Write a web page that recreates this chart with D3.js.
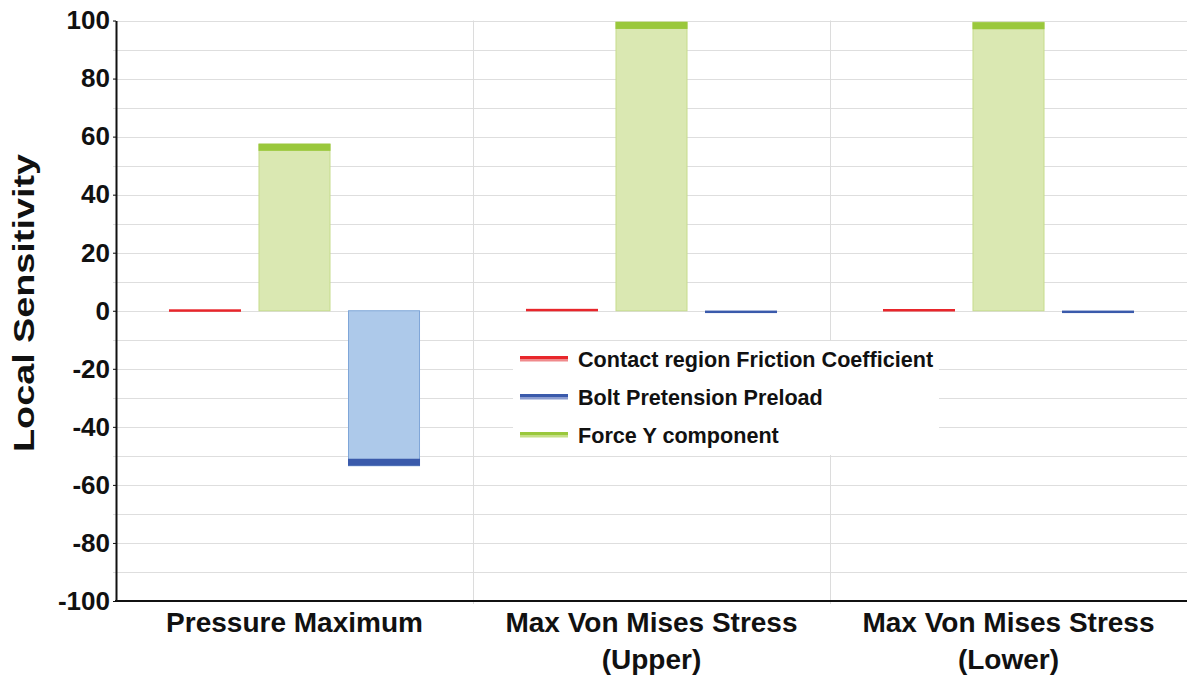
<!DOCTYPE html>
<html>
<head>
<meta charset="utf-8">
<script src="https://cdnjs.cloudflare.com/ajax/libs/d3/7.8.5/d3.min.js"></script>
<style>
  html, body { margin: 0; padding: 0; background: #fff; }
  svg { display: block; font-family: "Liberation Sans", Arial, sans-serif; }
</style>
</head>
<body>
<svg id="chart" width="1187" height="679"></svg>
<script>
// ---- data ----
const categories = ["Pressure Maximum", "Max Von Mises Stress (Upper)", "Max Von Mises Stress (Lower)"];
const categoryLabels = [["Pressure Maximum"], ["Max Von Mises Stress", "(Upper)"], ["Max Von Mises Stress", "(Lower)"]];
// legend order
const seriesNames = ["Contact region Friction Coefficient", "Bolt Pretension Preload", "Force Y component"];
// bar order within each group
const barOrder = ["Contact region Friction Coefficient", "Force Y component", "Bolt Pretension Preload"];
const frictionValues = [0.5, -0.2, 0.6];
const boltValues = [-53.4, -0.8, -0.8];
const forceYValues = [57.5, 99.5, 99.4];
const yTickValues = [-100, -80, -60, -40, -20, 0, 20, 40, 60, 80, 100];
const yGridValues = d3.range(-100, 101, 10);
const yTitle = "Local Sensitivity";

// ---- styles ----
const seriesStyle = [
  { fill: "#f4b6b6", stroke: "#ec8080", cap: "#e8262b", light: "#f08a8c" },
  { fill: "#adc9ea", stroke: "#7fa6d8", cap: "#3a5aab", light: "#8c9dd0" },
  { fill: "#dae8b2", stroke: "#c6dc8c", cap: "#9ac83c", light: "#c5df86" }
];
const seriesValues = [frictionValues, boltValues, forceYValues];

const svg = d3.select("#chart");
const pLeft = 116, pRight = 1187, pTop = 20.5, pBottom = 601;

const y = d3.scaleLinear().domain([-100, 100]).range([pBottom, pTop]);
const x0 = d3.scaleBand().domain(categories).range([pLeft, pRight]).padding(0);
const x1 = d3.scaleBand().domain(barOrder).range([0, x0.bandwidth()])
  .paddingInner(0.1955).paddingOuter(0.592);

// grid
svg.append("g").selectAll("line").data(yGridValues).join("line")
  .attr("x1", pLeft - 3).attr("x2", pRight)
  .attr("y1", d => Math.round(y(d)) + 0.5).attr("y2", d => Math.round(y(d)) + 0.5)
  .attr("stroke", "#dedede").attr("stroke-width", 1);

// category separators
svg.append("g").selectAll("line").data(categories.slice(1)).join("line")
  .attr("x1", d => Math.round(x0(d)) + 0.5).attr("x2", d => Math.round(x0(d)) + 0.5)
  .attr("y1", pTop).attr("y2", pBottom + 3)
  .attr("stroke", "#dcdcdc").attr("stroke-width", 1);

// bars
const bars = [];
categories.forEach((c, ci) => {
  seriesNames.forEach((s, si) => {
    bars.push({ cat: c, ser: s, si, v: seriesValues[si][ci] });
  });
});
const gBars = svg.append("g");
bars.forEach(b => {
  const st = seriesStyle[b.si];
  const bx = x0(b.cat) + x1(b.ser), bw = x1.bandwidth();
  const y0 = y(0), yv = y(b.v);
  const h = Math.abs(yv - y0);
  if (h > 3) {
    gBars.append("rect")
      .attr("x", bx + 0.5).attr("y", Math.min(y0, yv))
      .attr("width", bw - 1).attr("height", h)
      .attr("fill", st.fill).attr("stroke", st.stroke).attr("stroke-width", 1);
  }
  const capH = Math.min(7, Math.max(2.5, h));
  const capY = b.v >= 0 ? yv : yv - capH;
  gBars.append("rect")
    .attr("x", bx).attr("y", capY)
    .attr("width", bw).attr("height", capH)
    .attr("fill", st.cap);
});

// y axis
const yAxis = d3.axisLeft(y).tickValues(yTickValues).tickFormat(d => String(d))
  .tickSize(3).tickPadding(3).tickSizeOuter(0);
const gy = svg.append("g").attr("transform", `translate(${pLeft},0)`).call(yAxis);
gy.select(".domain").attr("stroke", "#111").attr("stroke-width", 2);
gy.selectAll(".tick line").attr("stroke", "#111");
gy.selectAll(".tick text").attr("font-size", 26).attr("font-weight", "bold")
  .attr("fill", "#111").attr("font-family", "'Liberation Sans', Arial, sans-serif");

// x axis line
svg.append("line").attr("x1", pLeft - 1).attr("x2", pRight)
  .attr("y1", pBottom).attr("y2", pBottom)
  .attr("stroke", "#111").attr("stroke-width", 2);

// x labels
const gx = svg.append("g");
categories.forEach((c, ci) => {
  const cx = x0(c) + x0.bandwidth() / 2;
  categoryLabels[ci].forEach((line, li) => {
    gx.append("text").attr("x", cx).attr("y", 632 + li * 37)
      .attr("text-anchor", "middle").attr("font-size", 28).attr("font-weight", "bold")
      .attr("fill", "#111").text(line);
  });
});

// y title
svg.append("text")
  .attr("transform", `translate(34,303) rotate(-90)`)
  .attr("text-anchor", "middle").attr("font-size", 30).attr("font-weight", "bold")
  .attr("textLength", 298).attr("lengthAdjust", "spacingAndGlyphs")
  .attr("fill", "#111").text(yTitle);

// legend
const lg = svg.append("g");
lg.append("rect").attr("x", 513).attr("y", 341).attr("width", 426).attr("height", 114).attr("fill", "#fff");
const legendY = [359, 397, 435];
seriesNames.forEach((s, si) => {
  const st = seriesStyle[si];
  const ly = legendY[si];
  lg.append("rect").attr("x", 520).attr("y", ly - 3).attr("width", 48).attr("height", 3).attr("fill", st.cap);
  lg.append("rect").attr("x", 520).attr("y", ly).attr("width", 48).attr("height", 2.5).attr("fill", st.light);
  lg.append("text").attr("x", 578).attr("y", ly).attr("dy", "0.36em")
    .attr("font-size", 21.6).attr("font-weight", "bold").attr("fill", "#111").text(s);
});
</script>
</body>
</html>
